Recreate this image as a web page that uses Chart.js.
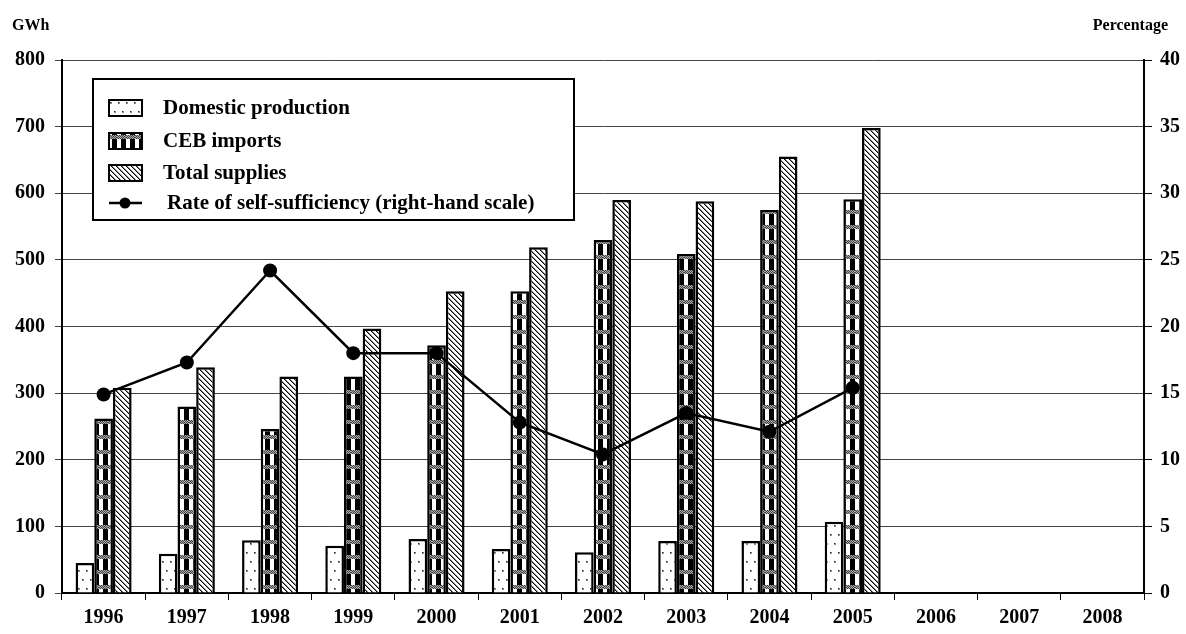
<!DOCTYPE html>
<html>
<head>
<meta charset="utf-8">
<title>Electricity supplies</title>
<script src="https://cdn.jsdelivr.net/npm/chart.js@4.4.1/dist/chart.umd.min.js"></script>
<style>
  html, body { margin:0; padding:0; background:#fff; }
</style>
</head>
<body>
<canvas id="chart" width="1186" height="634"></canvas>
<script>
// --- data ---
const years = ['1996','1997','1998','1999','2000','2001','2002','2003','2004','2005','2006','2007','2008'];
const domestic = [45, 59, 79, 71, 81, 66, 61, 78, 78, 107];
const cebImports = [262, 280, 246, 325, 372, 453, 530, 509, 575, 591];
const totalSupplies = [308, 339, 325, 397, 453, 519, 590, 588, 655, 698];
const selfSufficiency = [14.9, 17.3, 24.2, 18.0, 18.0, 12.8, 10.4, 13.5, 12.1, 15.4];
const gwhTicks = [0, 100, 200, 300, 400, 500, 600, 700, 800];
const pctTicks = [0, 5, 10, 15, 20, 25, 30, 35, 40];

const FONT = 'Liberation Serif, Times New Roman, serif';

// --- fill patterns ---
function makeTile(w, h, paint) {
  const c = document.createElement('canvas');
  c.width = w; c.height = h;
  const g = c.getContext('2d');
  g.fillStyle = '#fff';
  g.fillRect(0, 0, w, h);
  paint(g);
  return document.getElementById('chart').getContext('2d').createPattern(c, 'repeat');
}

const dotFill = makeTile(8, 18, g => {
  g.fillStyle = '#888';
  g.fillRect(2, 3, 2, 2);
  g.fillRect(6, 12, 2, 2);
  g.fillStyle = '#222';
  g.fillRect(2, 3, 1, 1);
  g.fillRect(6, 12, 1, 1);
});

const checkFill = makeTile(9, 15, g => {
  for (let y = 0; y < 4; y++)
    for (let x = 0; x < 9; x++) {
      g.fillStyle = (x + y) % 2 ? '#aaa' : '#444';
      g.fillRect(x, y, 1, 1);
    }
  g.fillStyle = '#000';
  g.fillRect(4, 4, 5, 11);
});

const hatchFill = makeTile(5, 5, g => {
  for (let i = 0; i < 5; i++) {
    g.fillStyle = '#000';
    g.fillRect(i, i, 1, 1);
    g.fillStyle = '#888';
    g.fillRect((i + 1) % 5, i, 1, 1);
  }
});

// --- legend box + axis captions ---
const decorations = {
  id: 'decorations',
  afterDraw(chart) {
    const ctx = chart.ctx;
    ctx.save();
    ctx.fillStyle = '#000';
    ctx.font = 'bold 16px ' + FONT;
    ctx.textBaseline = 'middle';
    ctx.textAlign = 'left';
    ctx.fillText('GWh', 12, 26);
    ctx.textAlign = 'right';
    ctx.fillText('Percentage', 1168, 26);

    // legend frame
    ctx.fillStyle = '#fff';
    ctx.fillRect(93, 79, 481, 141);
    ctx.lineWidth = 2;
    ctx.strokeStyle = '#000';
    ctx.strokeRect(93, 79, 481, 141);

    const rows = [108, 141, 173, 203];
    ctx.font = 'bold 21px ' + FONT;
    ctx.textAlign = 'left';
    chart.data.datasets.forEach((ds, i) => {
      const y = rows[i];
      if (ds.type === 'line') {
        ctx.lineWidth = 2.5;
        ctx.beginPath();
        ctx.moveTo(109, y); ctx.lineTo(142, y);
        ctx.stroke();
        ctx.fillStyle = '#000';
        ctx.beginPath();
        ctx.arc(125, y, 5.5, 0, Math.PI * 2);
        ctx.fill();
        ctx.fillText(ds.label, 167, y + 1);
      } else {
        ctx.fillStyle = ds.backgroundColor;
        ctx.fillRect(109, y - 8, 33, 16);
        ctx.lineWidth = 2;
        ctx.strokeRect(109, y - 8, 33, 16);
        ctx.fillStyle = '#000';
        ctx.fillText(ds.label, 163, y + 1);
      }
    });
    ctx.restore();
  }
};

const barStyle = { borderColor: '#000', borderWidth: 2.5, categoryPercentage: 0.673, barPercentage: 1.0, order: 1 };
const tickFont = { family: FONT, size: 20, weight: 'bold' };

new Chart(document.getElementById('chart'), {
  type: 'bar',
  data: {
    labels: years,
    datasets: [
      { label: 'Domestic production', data: domestic, backgroundColor: dotFill, ...barStyle },
      { label: 'CEB imports', data: cebImports, backgroundColor: checkFill, ...barStyle },
      { label: 'Total supplies', data: totalSupplies, backgroundColor: hatchFill, ...barStyle },
      {
        type: 'line', label: 'Rate of self-sufficiency (right-hand scale)',
        data: selfSufficiency, yAxisID: 'y1', order: 0,
        borderColor: '#000', borderWidth: 2.5, tension: 0,
        pointRadius: 7, pointBorderWidth: 0, pointBackgroundColor: '#000', pointBorderColor: '#000'
      }
    ]
  },
  options: {
    responsive: false,
    animation: false,
    layout: { padding: { top: 60, left: 0, right: 0, bottom: 0 } },
    plugins: { legend: { display: false }, tooltip: { enabled: false } },
    scales: {
      x: {
        afterFit: s => { s.height = 41; },
        grid: { offset: true, drawOnChartArea: false, tickLength: 7, color: '#000', lineWidth: 1 },
        border: { color: '#000', width: 2 },
        ticks: { font: tickFont, color: '#000', padding: 6, maxRotation: 0, autoSkip: false }
      },
      y: {
        position: 'left', min: 0, max: 800,
        afterFit: s => { s.width = 62; },
        afterBuildTicks: s => { s.ticks = gwhTicks.map(v => ({ value: v })); },
        grid: { color: '#444', lineWidth: 1, tickLength: 7 },
        border: { color: '#000', width: 2 },
        ticks: { font: tickFont, color: '#000', padding: 10 }
      },
      y1: {
        position: 'right', min: 0, max: 40,
        afterFit: s => { s.width = 42; },
        afterBuildTicks: s => { s.ticks = pctTicks.map(v => ({ value: v })); },
        grid: { drawOnChartArea: false, color: '#000', tickLength: 8 },
        border: { color: '#000', width: 2 },
        ticks: { font: tickFont, color: '#000', padding: 8 }
      }
    }
  },
  plugins: [decorations]
});
</script>
</body>
</html>
